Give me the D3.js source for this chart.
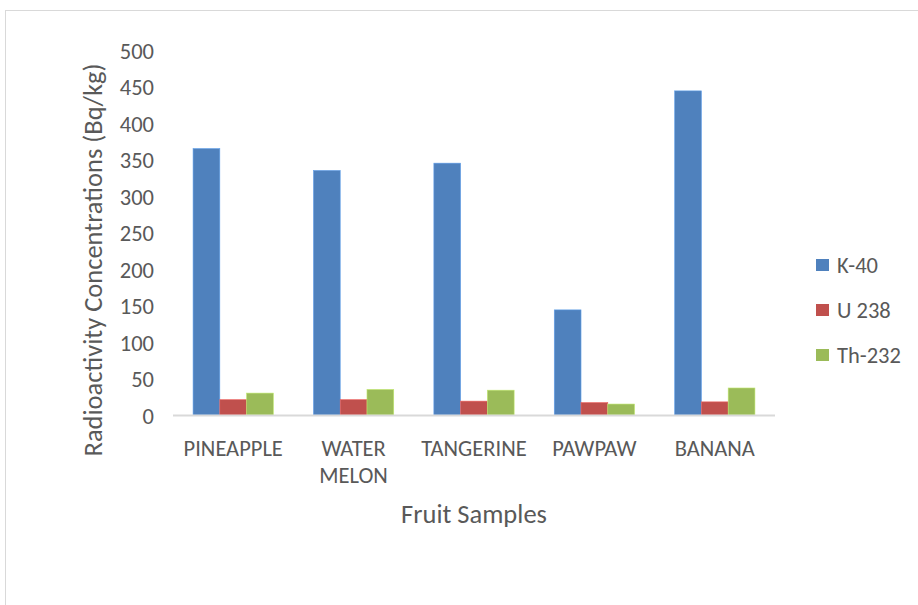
<!DOCTYPE html>
<html>
<head>
<meta charset="utf-8">
<script src="https://cdn.jsdelivr.net/npm/d3@7"></script>
<style>
  html, body { margin: 0; padding: 0; background: #fff; }
  svg { display: block; font-family: Carlito, Calibri, Lato, sans-serif; }
</style>
</head>
<body>
<svg id="chart" width="918" height="605"></svg>
<script>
// Fruit samples and their activity concentrations (Bq/kg)
const categories = ["PINEAPPLE", "WATER MELON", "TANGERINE", "PAWPAW", "BANANA"];
const seriesNames = ["K-40", "U 238", "Th-232"];
const k40 = [365, 335, 345, 144, 444];
const u238 = [21, 21, 19, 17, 18];
const th232 = [30, 35, 34, 15, 37];
const yTicks = [0, 50, 100, 150, 200, 250, 300, 350, 400, 450, 500];
const colors = ["#4f81bd", "#c0504d", "#9bbb59"];

const series = [k40, u238, th232];
const rows = categories.map((c, i) => ({
  category: c,
  values: seriesNames.map((s, j) => ({ name: s, value: series[j][i], color: colors[j] }))
}));

const svg = d3.select("#chart");
const textColor = "#595959";
const labelSize = 22.5;
const titleSize = 26.5;

// outer chart-area frame
svg.append("rect")
  .attr("x", 5.5).attr("y", 10.5)
  .attr("width", 930).attr("height", 620)
  .attr("fill", "#fff")
  .attr("stroke", "#d9d9d9").attr("stroke-width", 1);

const plot = { left: 173, right: 775, top: 50, bottom: 415 };

const x0 = d3.scaleBand()
  .domain(categories)
  .range([plot.left, plot.right])
  .paddingInner(0.3333)
  .paddingOuter(0.1667);

const x1 = d3.scaleBand()
  .domain(seriesNames)
  .range([0, x0.bandwidth()]);

const y = d3.scaleLinear()
  .domain([0, 500])
  .range([plot.bottom, plot.top]);

// bars
const groups = svg.append("g").selectAll("g")
  .data(rows)
  .join("g")
  .attr("transform", d => `translate(${x0(d.category)},0)`);

groups.selectAll("rect")
  .data(d => d.values)
  .join("rect")
  .attr("x", d => x1(d.name))
  .attr("y", d => y(d.value))
  .attr("width", x1.bandwidth())
  .attr("height", d => y(0) - y(d.value))
  .attr("fill", d => d.color)
  .attr("stroke", d => d3.color(d.color).brighter(0.6))
  .attr("stroke-width", 0.6);

// category axis line
svg.append("line")
  .attr("x1", plot.left).attr("x2", plot.right)
  .attr("y1", plot.bottom + 0.5).attr("y2", plot.bottom + 0.5)
  .attr("stroke", "#d9d9d9").attr("stroke-width", 2);

// value axis labels
const yAxis = svg.append("g")
  .attr("transform", `translate(154,0)`)
  .call(d3.axisLeft(y).tickValues(yTicks).tickSize(0).tickPadding(0));
yAxis.select(".domain").remove();
yAxis.selectAll("text")
  .attr("fill", textColor)
  .attr("font-size", labelSize)
  .attr("font-family", "Carlito, Calibri, Lato, sans-serif")
  .attr("dy", "0.36em");

// category labels (wrapped on spaces)
const xAxis = svg.append("g");
xAxis.selectAll("text")
  .data(categories)
  .join("text")
  .attr("x", d => x0(d) + x0.bandwidth() / 2)
  .attr("y", 456)
  .attr("text-anchor", "middle")
  .attr("fill", textColor)
  .attr("font-size", labelSize)
  .each(function (d) {
    const words = d.split(" ");
    const t = d3.select(this);
    words.forEach((w, i) => {
      t.append("tspan")
        .attr("x", x0(d) + x0.bandwidth() / 2)
        .attr("dy", i === 0 ? 0 : 27)
        .text(w);
    });
  });

// axis titles
svg.append("text")
  .attr("x", 474).attr("y", 523)
  .attr("text-anchor", "middle")
  .attr("fill", textColor)
  .attr("font-size", titleSize)
  .text("Fruit Samples");

svg.append("text")
  .attr("transform", "translate(102,260) rotate(-90)")
  .attr("text-anchor", "middle")
  .attr("fill", textColor)
  .attr("font-size", titleSize)
  .text("Radioactivity Concentrations (Bq/kg)");

// legend
const legend = svg.append("g").selectAll("g")
  .data(seriesNames)
  .join("g")
  .attr("transform", (d, i) => `translate(816,${259 + i * 45})`);
legend.append("rect")
  .attr("width", 13).attr("height", 12)
  .attr("fill", (d, i) => colors[i]);
legend.append("text")
  .attr("x", 21).attr("y", 14)
  .attr("fill", textColor)
  .attr("font-size", labelSize)
  .text(d => d);
</script>
</body>
</html>
